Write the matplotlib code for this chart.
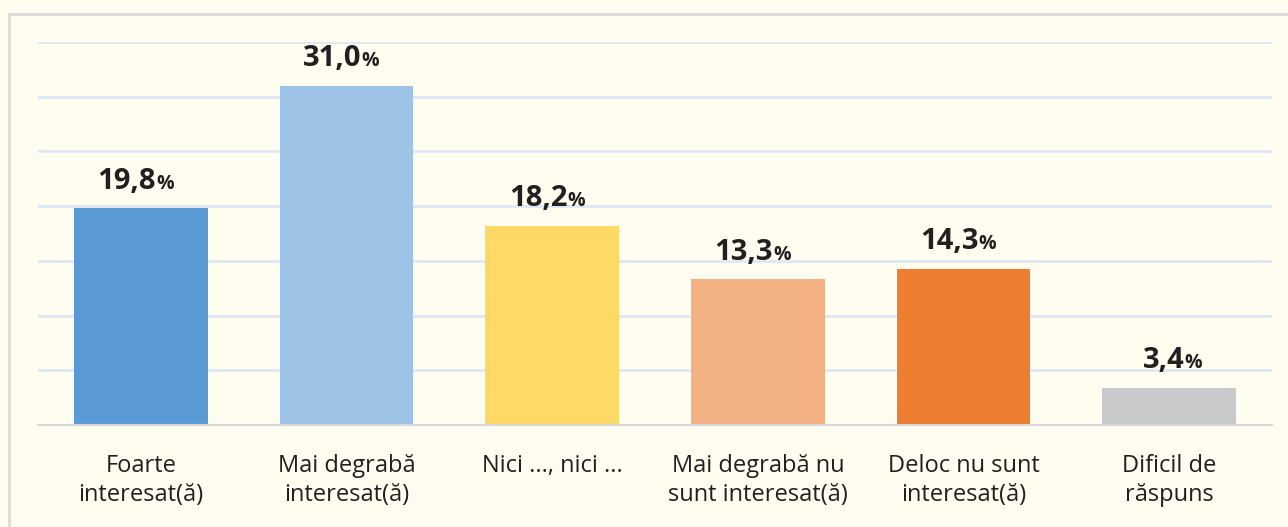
import matplotlib.pyplot as plt
from matplotlib.patches import Rectangle

categories = ['Foarte\ninteresat(ă)', 'Mai degrabă\ninteresat(ă)', 'Nici ..., nici ...',
              'Mai degrabă nu\nsunt interesat(ă)', 'Deloc nu sunt\ninteresat(ă)', 'Dificil de\nrăspuns']
values = [19.8, 31.0, 18.2, 13.3, 14.3, 3.4]
colors = ['#5B9BD5', '#9DC3E6', '#FFD966', '#F4B183', '#ED7D31', '#C8C9CB']

bg = '#FFFDEF'
txt = '#231F20'
plt.rcParams['font.family'] = ['Open Sans', 'DejaVu Sans']

fig = plt.figure(figsize=(12.88, 5.27), dpi=100, facecolor=bg)
ax = fig.add_axes([38 / 1288, 1 - 425 / 527, 1234 / 1288, 383 / 527])
ax.set_facecolor(bg)

# outer frame (only top/left visible in the reference)
fig.patches.append(Rectangle((8.5 / 1288, -0.2), 2, 1.2 - 13.5 / 527, transform=fig.transFigure,
                             fill=False, edgecolor='#DADADA', linewidth=2.0))

x = range(len(values))
ax.bar(x, values, width=0.65, color=colors, zorder=3)
ax.set_xlim(-0.5, 5.5)
ax.set_ylim(0, 35)
ax.set_yticks(range(0, 36, 5))
ax.yaxis.grid(True, color='#DEE7F3', linewidth=2.0, zorder=0)
ax.tick_params(axis='y', length=0, labelleft=False)
ax.tick_params(axis='x', length=0, pad=21)
ax.set_xticks(list(x))
ax.set_xticklabels(categories, fontsize=17, color=txt, linespacing=1.25)
for s in ['top', 'right', 'left']:
    ax.spines[s].set_visible(False)
ax.spines['bottom'].set_color('#D9D9D9')
ax.spines['bottom'].set_linewidth(1.5)
ax.spines['bottom'].set_zorder(4)

for i, v in enumerate(values):
    num = f'{v:.1f}'.replace('.', ',')
    ax.annotate(num, (i, v), xytext=(11, 14), textcoords='offset points', ha='right',
                va='baseline', fontsize=21, fontweight='bold', color=txt)
    ax.annotate('%', (i, v), xytext=(11, 14), textcoords='offset points', ha='left',
                va='baseline', fontsize=14, fontweight='bold', color=txt)

fig.savefig('out.png', dpi=100, facecolor=bg)
